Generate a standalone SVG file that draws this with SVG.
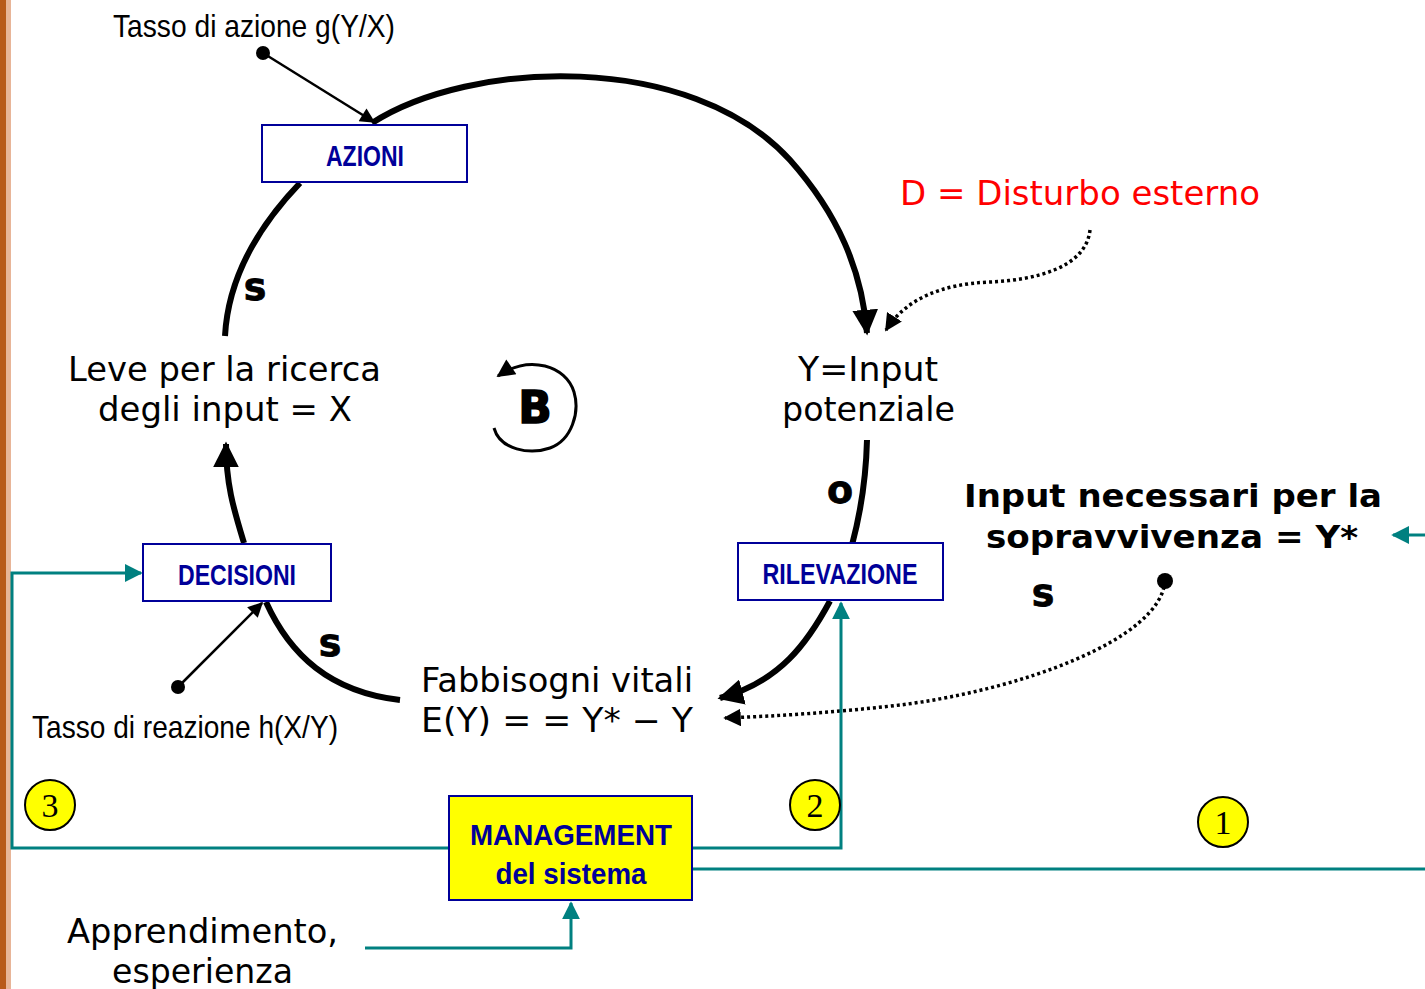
<svg xmlns="http://www.w3.org/2000/svg" width="1425" height="989" viewBox="0 0 1425 989">
  <style>
    .narrow { font-family: "Liberation Sans Narrow", "Liberation Sans", Arial, sans-serif; }
    .box { fill: #ffffff; stroke: #000099; stroke-width: 2; }
    .boxlabel { font-family: "Liberation Sans Narrow", "Liberation Sans", Arial, sans-serif; font-weight: bold; fill: #000099; font-size: 30px; text-anchor: middle; }
    .main { font-family: "DejaVu Sans", Verdana, sans-serif; font-size: 33px; fill: #000000; }
    .strong { font-family: "DejaVu Sans", Verdana, sans-serif; font-size: 32px; font-weight: bold; fill: #000000; }
    .polarity { font-family: "DejaVu Sans", Verdana, sans-serif; font-weight: bold; font-size: 38px; fill: #000000; stroke: #000000; stroke-width: 0.8; text-anchor: middle; }
    .loop { fill: none; stroke: #000000; stroke-width: 6; }
    .thin { fill: none; stroke: #000000; stroke-width: 2.5; }
    .dotted { fill: none; stroke: #000000; stroke-width: 3.5; stroke-dasharray: 3 3; }
    .teal { fill: none; stroke: #008080; stroke-width: 3; }
    .num circle { fill: #ffff00; stroke: #000000; stroke-width: 2; }
    .num text { font-family: "Liberation Serif", "Times New Roman", serif; font-size: 34px; text-anchor: middle; fill: #000000; }
  </style>
  <defs>
    <marker id="bigHead" viewBox="0 0 10 10" refX="9" refY="5" markerWidth="4.3" markerHeight="4.3" orient="auto" markerUnits="strokeWidth">
      <path d="M0,0 L10,5 L0,10 z" fill="#000000"/>
    </marker>
    <marker id="thinHead" viewBox="0 0 10 10" refX="9" refY="5" markerWidth="7" markerHeight="6" orient="auto" markerUnits="strokeWidth">
      <path d="M0,0 L10,5 L0,10 z" fill="#000000"/>
    </marker>
    <marker id="dotHead" viewBox="0 0 10 10" refX="9" refY="5" markerWidth="5" markerHeight="5" orient="auto" markerUnits="strokeWidth">
      <path d="M0,0 L10,5 L0,10 z" fill="#000000"/>
    </marker>
    <marker id="loopHead" viewBox="0 0 10 10" refX="9" refY="5" markerWidth="7" markerHeight="6" orient="auto" markerUnits="strokeWidth">
      <path d="M0,0 L10,5 L0,10 z" fill="#000000"/>
    </marker>
    <marker id="tealHead" viewBox="0 0 10 10" refX="9" refY="5" markerWidth="6" markerHeight="6" orient="auto" markerUnits="strokeWidth">
      <path d="M0,0 L10,5 L0,10 z" fill="#008080"/>
    </marker>
  </defs>

  <rect x="0" y="0" width="1425" height="989" fill="#ffffff"/>
  <!-- side band -->
  <rect x="0" y="0" width="6" height="989" fill="#b85a1a"/>
  <rect x="6" y="0" width="5" height="989" fill="#e8b598"/>

  <g id="connectors">
    <!-- balancing loop -->
    <path class="loop" d="M372,123 C470,60 690,50 790,160 C838,214 862,270 867,333" marker-end="url(#bigHead)"/>
    <path class="loop" d="M300,183 C255,230 228,280 225,336"/>
    <path class="loop" d="M244,543 C234,510 226,485 226,444" marker-end="url(#bigHead)"/>
    <path class="loop" d="M400,700 C330,692 290,655 266,602"/>
    <path class="loop" d="M867,440 C866,480 860,515 852,545"/>
    <path class="loop" d="M830,601 C808,642 780,682 720,698" marker-end="url(#bigHead)"/>

    <!-- rate inputs -->
    <circle cx="263" cy="53" r="7" fill="#000000"/>
    <path class="thin" d="M263,53 L374,122" marker-end="url(#thinHead)"/>
    <circle cx="178" cy="687" r="7" fill="#000000"/>
    <path class="thin" d="M178,687 L262,603" marker-end="url(#thinHead)"/>

    <!-- disturbance and target -->
    <path class="dotted" d="M1090,230 C1086,268 1035,280 990,282 C940,284 905,300 886,330" marker-end="url(#dotHead)"/>
    <circle cx="1165" cy="581" r="8" fill="#000000"/>
    <path class="dotted" d="M1165,581 C1160,640 1020,690 900,705 C840,712 780,716 725,718" marker-end="url(#dotHead)"/>

    <!-- B loop symbol -->
    <path fill="none" stroke="#000000" stroke-width="3" d="M494,428 C500,450 530,455 550,448 C572,440 580,412 574,392 C566,366 530,354 498,376" marker-end="url(#loopHead)"/>

    <!-- management links -->
    <path class="teal" d="M1425,535 L1393,535" marker-end="url(#tealHead)"/>
    <path class="teal" d="M449,848 L12,848 L12,573 L141,573" marker-end="url(#tealHead)"/>
    <path class="teal" d="M692,848 L841,848 L841,603" marker-end="url(#tealHead)"/>
    <path class="teal" d="M692,869 L1425,869"/>
    <path class="teal" d="M365,948 L571,948 L571,903" marker-end="url(#tealHead)"/>
  </g>

  <g id="azioni">
    <rect class="box" x="262" y="125" width="205" height="57"/>
    <text class="boxlabel" x="365" y="166" textLength="78" lengthAdjust="spacingAndGlyphs">AZIONI</text>
  </g>
  <g id="decisioni">
    <rect class="box" x="143" y="544" width="188" height="57"/>
    <text class="boxlabel" x="237" y="585" textLength="118" lengthAdjust="spacingAndGlyphs">DECISIONI</text>
  </g>
  <g id="rilevazione">
    <rect class="box" x="738" y="543" width="205" height="57"/>
    <text class="boxlabel" x="840" y="584" textLength="155" lengthAdjust="spacingAndGlyphs">RILEVAZIONE</text>
  </g>
  <g id="management">
    <rect x="449" y="796" width="243" height="104" fill="#ffff00" stroke="#000099" stroke-width="2"/>
    <text class="boxlabel" x="571" y="845" font-size="38" textLength="202" lengthAdjust="spacingAndGlyphs">MANAGEMENT</text>
    <text class="boxlabel" x="571" y="884" font-size="38" textLength="151" lengthAdjust="spacingAndGlyphs">del sistema</text>
  </g>

  <g id="leve">
    <text class="main" x="68" y="381" textLength="313" lengthAdjust="spacingAndGlyphs">Leve per la ricerca</text>
    <text class="main" x="98" y="421" textLength="254" lengthAdjust="spacingAndGlyphs">degli input = X</text>
  </g>
  <g id="input-potenziale">
    <text class="main" x="798" y="381" textLength="140" lengthAdjust="spacingAndGlyphs">Y=Input</text>
    <text class="main" x="782" y="421" textLength="173" lengthAdjust="spacingAndGlyphs">potenziale</text>
  </g>
  <g id="fabbisogni">
    <text class="main" x="421" y="692" textLength="272" lengthAdjust="spacingAndGlyphs">Fabbisogni vitali</text>
    <text class="main" x="421" y="732" textLength="272" lengthAdjust="spacingAndGlyphs">E(Y) = = Y* − Y</text>
  </g>
  <g id="disturbo">
    <text class="main" x="900" y="205" style="fill:#ff0000" textLength="360" lengthAdjust="spacingAndGlyphs">D = Disturbo esterno</text>
  </g>
  <g id="input-necessari">
    <text class="strong" x="964" y="507" textLength="418" lengthAdjust="spacingAndGlyphs">Input necessari per la</text>
    <text class="strong" x="986" y="548" textLength="372" lengthAdjust="spacingAndGlyphs">sopravvivenza = Y*</text>
  </g>
  <g id="apprendimento">
    <text class="main" x="67" y="943" textLength="271" lengthAdjust="spacingAndGlyphs">Apprendimento,</text>
    <text class="main" x="112" y="983" textLength="181" lengthAdjust="spacingAndGlyphs">esperienza</text>
  </g>
  <g id="tasso-azione">
    <text class="narrow" x="113" y="37" font-size="32" textLength="282" lengthAdjust="spacingAndGlyphs">Tasso di azione g(Y/X)</text>
  </g>
  <g id="tasso-reazione">
    <text class="narrow" x="32" y="738" font-size="32" textLength="306" lengthAdjust="spacingAndGlyphs">Tasso di reazione h(X/Y)</text>
  </g>

  <g id="polarities">
    <text class="polarity" x="255" y="300">s</text>
    <text class="polarity" x="330" y="656">s</text>
    <text class="polarity" x="840" y="503">o</text>
    <text class="polarity" x="1043" y="606">s</text>
    <text x="535" y="423" text-anchor="middle" font-family="DejaVu Sans, Verdana, sans-serif" font-weight="900" font-size="44" stroke="#000000" stroke-width="1.5">B</text>
  </g>

  <g id="step-3" class="num">
    <circle cx="50" cy="805" r="25"/>
    <text x="50" y="817">3</text>
  </g>
  <g id="step-2" class="num">
    <circle cx="815" cy="805" r="25"/>
    <text x="815" y="817">2</text>
  </g>
  <g id="step-1" class="num">
    <circle cx="1223" cy="822" r="25"/>
    <text x="1223" y="834">1</text>
  </g>
</svg>
